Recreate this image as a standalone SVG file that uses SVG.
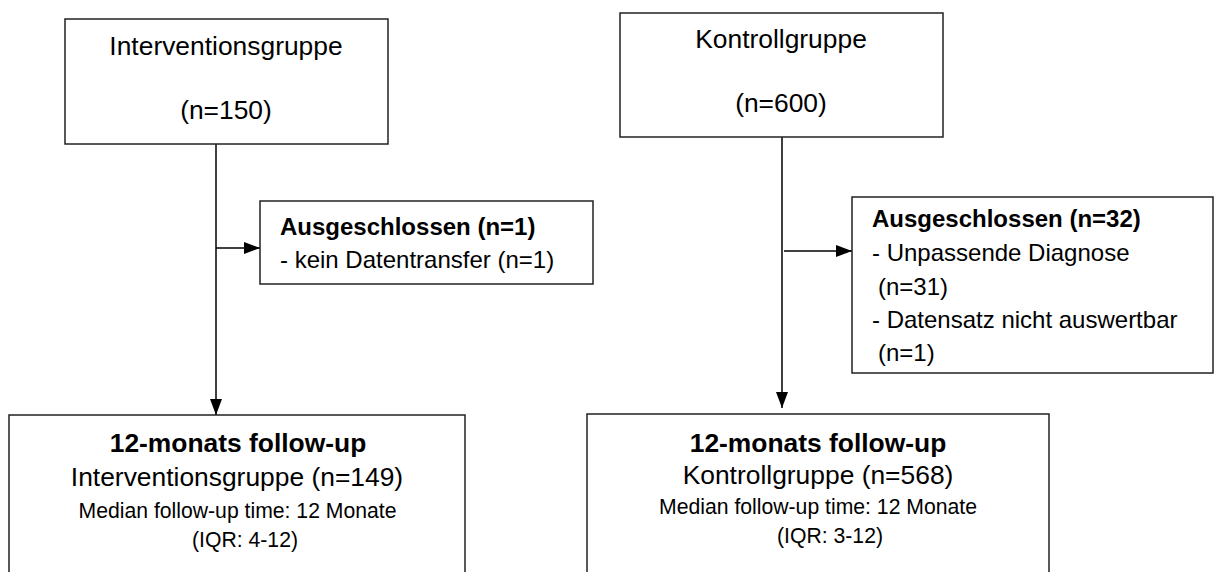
<svg xmlns="http://www.w3.org/2000/svg" width="1217" height="572" viewBox="0 0 1217 572">
<style>
  .box { fill: #fff; stroke: #222; stroke-width: 1.5; }
  .t { font-family: "Liberation Sans", Arial, sans-serif; fill: #000; }
  .big { font-size: 26.4px; }
  .mid { font-size: 24px; }
  .sm { font-size: 21.2px; }
  .b { font-weight: bold; }
  .c { text-anchor: middle; }
  .ln { stroke: #000; stroke-width: 1.5; fill: none; marker-end: url(#arr); }
</style>
<defs>
  <marker id="arr" viewBox="0 0 16 12" refX="16" refY="6" markerWidth="16" markerHeight="12" orient="auto" markerUnits="userSpaceOnUse">
    <path d="M0,0 L16,6 L0,12 z" fill="#000"/>
  </marker>
</defs>
<rect width="1217" height="572" fill="#fff"/>
<g id="connectors">
  <path class="ln" d="M216,144 V415"/>
  <path class="ln" d="M216,248 H260"/>
  <path class="ln" d="M782,137 V408"/>
  <path class="ln" d="M784,251 H852"/>
</g>
<g id="intervention">
  <rect class="box" x="65" y="19" width="323" height="125"/>
  <text class="t big c" x="226" y="55">Interventionsgruppe</text>
  <text class="t big c" x="226" y="119">(n=150)</text>
</g>
<g id="kontroll">
  <rect class="box" x="620" y="13" width="323" height="124"/>
  <text class="t big c" x="781" y="48">Kontrollgruppe</text>
  <text class="t big c" x="781" y="112">(n=600)</text>
</g>
<g id="excluded-left">
  <rect class="box" x="260" y="201" width="333" height="83"/>
  <text class="t mid b" x="280" y="235">Ausgeschlossen (n=1)</text>
  <text class="t mid" x="280" y="268">- kein Datentransfer (n=1)</text>
</g>
<g id="excluded-right">
  <rect class="box" x="852" y="197" width="361" height="176"/>
  <text class="t mid b" x="872" y="227">Ausgeschlossen (n=32)</text>
  <text class="t mid" x="872" y="261">- Unpassende Diagnose</text>
  <text class="t mid" x="878" y="295">(n=31)</text>
  <text class="t mid" x="872" y="328">- Datensatz nicht auswertbar</text>
  <text class="t mid" x="878" y="361">(n=1)</text>
</g>
<g id="followup-left">
  <rect class="box" x="9" y="415" width="456" height="170"/>
  <text class="t big b c" x="238" y="452">12-monats follow-up</text>
  <text class="t big c" x="237" y="486">Interventionsgruppe (n=149)</text>
  <text class="t sm c" x="237.5" y="518">Median follow-up time: 12 Monate</text>
  <text class="t sm c" x="245" y="547">(IQR: 4-12)</text>
</g>
<g id="followup-right">
  <rect class="box" x="587" y="414" width="462" height="170"/>
  <text class="t big b c" x="818" y="452">12-monats follow-up</text>
  <text class="t big c" x="818" y="484">Kontrollgruppe (n=568)</text>
  <text class="t sm c" x="818" y="514">Median follow-up time: 12 Monate</text>
  <text class="t sm c" x="830" y="543">(IQR: 3-12)</text>
</g>
</svg>
